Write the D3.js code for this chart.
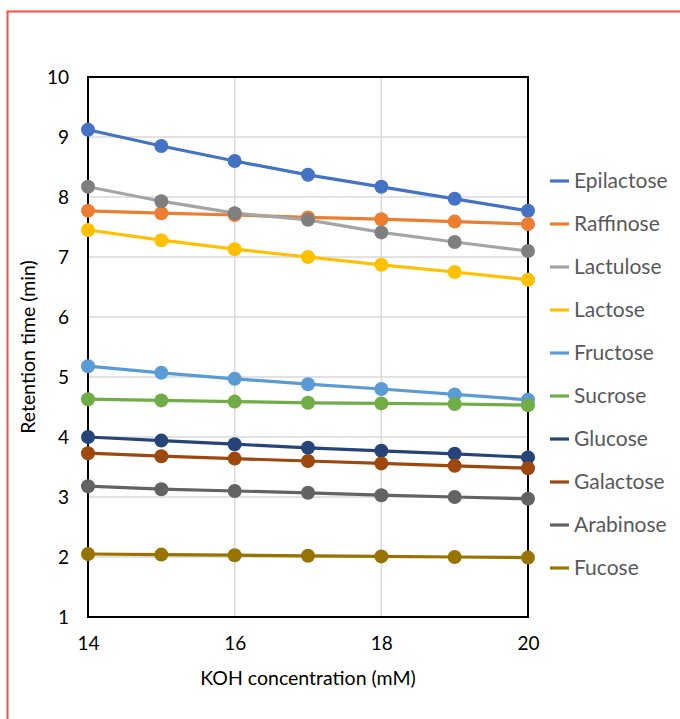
<!DOCTYPE html>
<html>
<head>
<meta charset="utf-8">
<script src="https://cdn.jsdelivr.net/npm/d3@7"></script>
<style>
  body { margin: 0; background: #fff; }
  svg { display: block; font-family: Lato, "Open Sans", sans-serif; }
</style>
</head>
<body>
<div id="chart"></div>
<script>
// data
const koh = [14, 15, 16, 17, 18, 19, 20];
const sugarNames = ['Epilactose', 'Raffinose', 'Lactulose', 'Lactose', 'Fructose',
                    'Sucrose', 'Glucose', 'Galactose', 'Arabinose', 'Fucose'];
const epilactose = [9.12, 8.85, 8.6, 8.37, 8.17, 7.97, 7.77];
const raffinose  = [7.77, 7.73, 7.7, 7.66, 7.63, 7.59, 7.55];
const lactulose  = [8.17, 7.93, 7.73, 7.62, 7.41, 7.25, 7.1];
const lactose    = [7.45, 7.28, 7.13, 7.0, 6.87, 6.75, 6.62];
const fructose   = [5.18, 5.07, 4.97, 4.88, 4.8, 4.71, 4.62];
const sucrose    = [4.63, 4.61, 4.59, 4.57, 4.56, 4.55, 4.53];
const glucose    = [4.0, 3.94, 3.88, 3.82, 3.77, 3.72, 3.66];
const galactose  = [3.73, 3.68, 3.64, 3.6, 3.56, 3.52, 3.48];
const arabinose  = [3.18, 3.13, 3.1, 3.07, 3.03, 3.0, 2.97];
const fucose     = [2.05, 2.04, 2.03, 2.02, 2.01, 2.0, 1.99];
const xTicks = [14, 16, 18, 20];
const yTicks = [1, 2, 3, 4, 5, 6, 7, 8, 9, 10];

const allValues = [epilactose, raffinose, lactulose, lactose, fructose,
                   sucrose, glucose, galactose, arabinose, fucose];
const lineColors = ['#4472C4', '#ED7D31', '#A5A5A5', '#FFC000', '#5B9BD5',
                    '#70AD47', '#264478', '#9E480E', '#636363', '#997300'];
const dotColors  = ['#4472C4', '#ED7D31', '#7F7F7F', '#FFC000', '#5B9BD5',
                    '#70AD47', '#264478', '#9E480E', '#636363', '#997300'];

// chart setup
const width = 680, height = 719;
const margin = { top: 77, right: 152, bottom: 102, left: 88 };
const chartWidth = width - margin.left - margin.right;
const chartHeight = height - margin.top - margin.bottom;

const svg = d3.select('#chart').append('svg')
  .attr('width', width)
  .attr('height', height);

// red frame (only top and left edges visible)
svg.append('path')
  .attr('d', `M7.5,${height + 5} V11.5 H${width + 5}`)
  .attr('fill', 'none')
  .attr('stroke', '#FF4B4B')
  .attr('stroke-width', 2);

const g = svg.append('g')
  .attr('transform', `translate(${margin.left},${margin.top})`);

const x = d3.scaleLinear().domain([14, 20]).range([0, chartWidth]);
const y = d3.scaleLinear().domain([1, 10]).range([chartHeight, 0]);

// gridlines
g.append('g').selectAll('line').data(yTicks).join('line')
  .attr('x1', 0).attr('x2', chartWidth)
  .attr('y1', d => y(d)).attr('y2', d => y(d))
  .attr('stroke', '#D9D9D9').attr('stroke-width', 1.5);
g.append('g').selectAll('line').data(xTicks).join('line')
  .attr('x1', d => x(d)).attr('x2', d => x(d))
  .attr('y1', 0).attr('y2', chartHeight)
  .attr('stroke', '#D9D9D9').attr('stroke-width', 1.5);

// axes
const xAxis = g.append('g')
  .attr('transform', `translate(0,${chartHeight})`)
  .call(d3.axisBottom(x).tickValues(xTicks).tickFormat(d3.format('d'))
    .tickSize(0).tickPadding(20));
const yAxis = g.append('g')
  .call(d3.axisLeft(y).tickValues(yTicks).tickFormat(d3.format('d'))
    .tickSize(0).tickPadding(19));
[xAxis, yAxis].forEach(a => {
  a.select('.domain').remove();
  a.selectAll('text').attr('font-size', 19).attr('fill', '#000')
    .attr('font-family', 'Lato, "Open Sans", sans-serif');
});

// plot frame
g.append('rect')
  .attr('width', chartWidth).attr('height', chartHeight)
  .attr('fill', 'none').attr('stroke', '#000').attr('stroke-width', 2);

// series
const line = d3.line().x((d, i) => x(koh[i])).y(d => y(d));
allValues.forEach((vals, s) => {
  const sg = g.append('g');
  sg.append('path').datum(vals)
    .attr('d', line)
    .attr('fill', 'none')
    .attr('stroke', lineColors[s])
    .attr('stroke-width', 3.2);
  sg.selectAll('circle').data(vals).join('circle')
    .attr('cx', (d, i) => x(koh[i]))
    .attr('cy', d => y(d))
    .attr('r', 7)
    .attr('fill', dotColors[s]);
});

// axis titles
svg.append('text')
  .attr('x', margin.left + chartWidth / 2).attr('y', 685)
  .attr('text-anchor', 'middle')
  .attr('font-size', 19.5).attr('fill', '#000')
  .text('KOH concentration (mM)');
svg.append('text')
  .attr('transform', `translate(35,${margin.top + chartHeight / 2}) rotate(-90)`)
  .attr('text-anchor', 'middle')
  .attr('font-size', 19.5).attr('fill', '#000')
  .text('Retention time (min)');

// legend
const legend = svg.append('g').attr('transform', 'translate(550,181)');
sugarNames.forEach((name, i) => {
  const row = legend.append('g').attr('transform', `translate(0,${i * 43})`);
  row.append('line')
    .attr('x1', 0).attr('x2', 19)
    .attr('stroke', lineColors[i]).attr('stroke-width', 3.2);
  row.append('text')
    .attr('x', 24).attr('y', 7)
    .attr('font-size', 21).attr('fill', '#595959')
    .text(name);
});
</script>
</body>
</html>
